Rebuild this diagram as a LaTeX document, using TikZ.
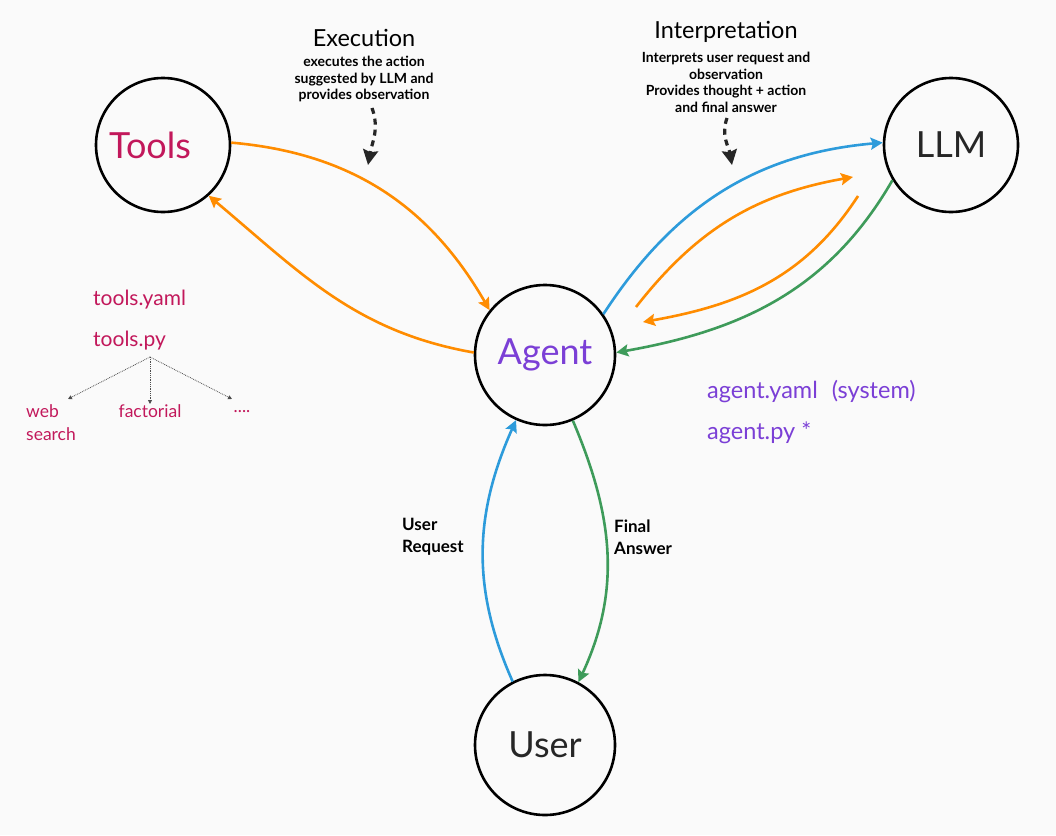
\documentclass[tikz,border=0pt]{standalone}
\usepackage{fontspec}
\setmainfont{Lato}
\definecolor{toolpink}{HTML}{C2185B}
\definecolor{agentviolet}{HTML}{7B3FD6}
\definecolor{orangeline}{HTML}{FF8C00}
\definecolor{blueline}{HTML}{2D9BDB}
\definecolor{greenline}{HTML}{3E9B5A}
\definecolor{paper}{HTML}{FAFAFA}
\usetikzlibrary{positioning,arrows.meta}

\begin{document}
\begin{tikzpicture}[
  x=1pt, y=-1pt,
  circ/.style={circle, draw=black, line width=2.6pt, minimum size=134pt, inner sep=0pt, font=\fontsize{36}{42}\selectfont},
  title/.style={font=\fontsize{23.5}{28}\selectfont, inner sep=0pt},
  note/.style={font=\bfseries\fontsize{14}{16.6}\selectfont, align=center, inner sep=0pt},
  file/.style={font=\fontsize{21}{24}\selectfont, anchor=west, inner sep=0pt},
  afile/.style={font=\fontsize{23.5}{26}\selectfont, anchor=west, inner sep=0pt, text=agentviolet},
  leaf/.style={font=\fontsize{17.5}{23}\selectfont, text=toolpink, inner sep=0pt, align=left},
  lab/.style={font=\bfseries\fontsize{17}{22}\selectfont, align=left, anchor=west, inner sep=0pt},
  fl/.style={-{Stealth[length=12pt, width=12pt, inset=2pt]}, line width=2.6pt},
  hint/.style={-{Stealth[length=15pt, width=15pt, inset=2pt]}, line width=3.2pt, dash pattern=on 6pt off 5pt, draw=black!85},
  tree/.style={-{Triangle[length=4pt, width=4pt]}, densely dotted, line width=0.8pt, draw=black!70}
]
\fill[paper] (0,0) rectangle (1056,835);
\useasboundingbox (0,0) rectangle (1056,835);

% main circles
\node[circ, label={[font=\fontsize{36}{42}\selectfont, text=toolpink, xshift=-13pt]center:Tools}] (tools) at (163,145) {};
\node[circ, text=black!85] (llm) at (951,145) {LLM};
\node[circ, minimum size=140pt, text=agentviolet] (agent) at (545,355) {Agent};
\node[circ, minimum size=140pt, text=black!85] (user) at (545,745) {User};

% headings
\node[title] (exec) at (364,38) {Execution};
\node[note, below=9pt of exec] (execnote) {executes the action\\suggested by LLM and\\provides observation};
\node[title] (interp) at (726,32) {Interpretation};
\node[note, below=9pt of interp] (interpnote) {Interprets user request and\\observation\\Provides thought + action\\and final answer};

% files
\node[file, text=toolpink] (tyaml) at (93,300) {tools.yaml};
\node[file, text=toolpink] (tpy) at (93,341) {tools.py};
\node[afile] (ayaml) at (707,392) {agent.yaml\hspace{14pt}(system)};
\node[afile] (apy) at (707,433) {agent.py *};

% tool list
\coordinate (fork) at (150,357);
\node[leaf, anchor=north west] (web) at (26,404) {web\\search};
\node[leaf, anchor=north] (fact) at (150,404) {factorial};
\node[leaf, anchor=north] (more) at (242,410) {....};
\draw[tree] (fork) -- (68,399);
\draw[tree] (fork) -- (fact.north);
\draw[tree] (fork) -- (232,399);

% flow labels
\node[lab] (req) at (402,537) {User\\Request};
\node[lab] (ans) at (614,537) {Final\\Answer};

% hint arrows
\coordinate (e1) at (372,108);
\coordinate (e2) at (368,165);
\coordinate (i1) at (727,118);
\coordinate (i2) at (732,165);
\draw[hint] (e1) to[out=-70, in=80] (e2);
\draw[hint] (i1) to[out=-110, in=100] (i2);

% tools loop
\draw[fl, orangeline] (tools.2) to[out=-5, in=120] (agent.141);
\draw[fl, orangeline] (agent.178) to[out=170, in=-40] (tools.-48);

% llm loop
\draw[fl, blueline] (agent.35) to[out=57, in=185] (llm.178);
\draw[fl, greenline] (llm.211) to[out=240, in=10] (agent.2);
\coordinate (o1) at (636,307);
\coordinate (o2) at (853,177);
\coordinate (o3) at (858,196);
\coordinate (o4) at (643,322);
\draw[fl, orangeline] (o1) to[out=52, in=190] (o2);
\draw[fl, orangeline] (o3) to[out=237, in=10] (o4);

% user loop
\draw[fl, blueline] (user.117) to[out=114, in=246] (agent.246);
\draw[fl, greenline] (agent.293) to[out=-67, in=65] (user.62);
\end{tikzpicture}
\end{document}
